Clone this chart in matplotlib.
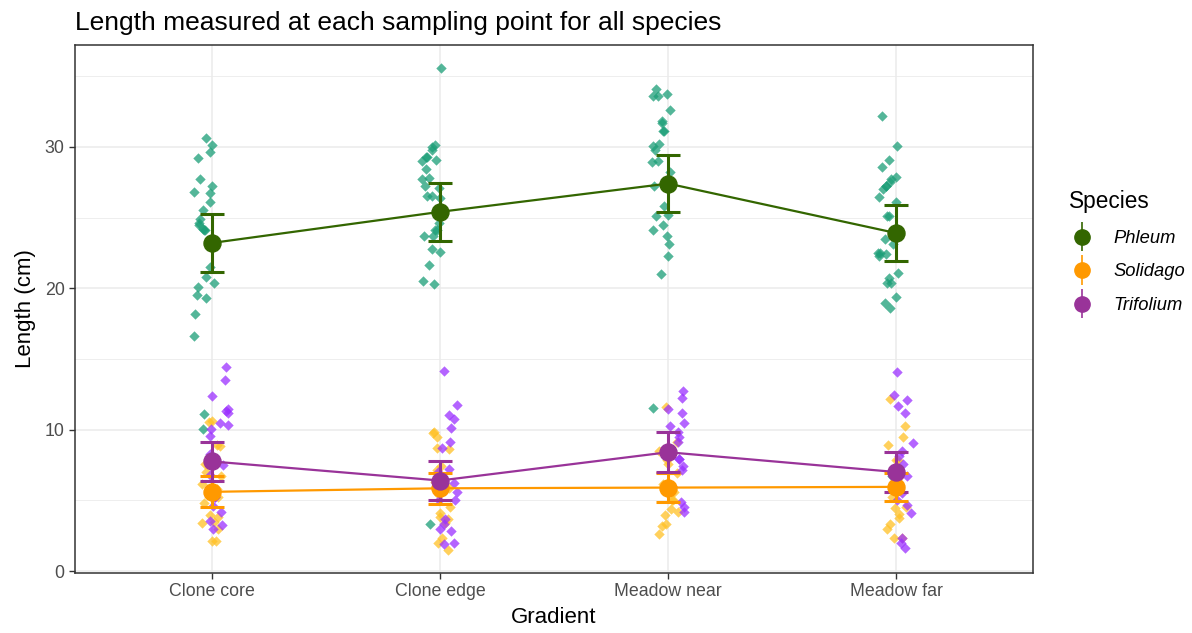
import numpy as np
import matplotlib.pyplot as plt
from matplotlib.ticker import MultipleLocator
from matplotlib.legend_handler import HandlerErrorbar
from matplotlib.container import ErrorbarContainer

plt.rcParams['font.family'] = ['Liberation Sans', 'DejaVu Sans']

gradient = ['Clone core', 'Clone edge', 'Meadow near', 'Meadow far']
species = ['Phleum', 'Solidago', 'Trifolium']

# raw lengths (cm) per sampling point
phleum_core = [30.6, 30.1, 29.6, 29.2, 27.7, 27.2, 26.8, 26.7, 26.1, 25.5, 24.9, 24.6, 24.5, 24.2,
               24.1, 24.1, 23.4, 21.5, 20.8, 20.4, 20.1, 19.5, 19.3, 18.2, 16.6, 11.1, 10.05]
phleum_edge = [35.6, 30.1, 30.0, 29.8, 29.3, 29.0, 29.3, 29.1, 28.45, 27.8, 27.7, 27.1, 27.2, 26.5,
               26.4, 26.5, 24.6, 24.1, 24.1, 23.7, 23.7, 22.8, 22.55, 21.65, 20.3, 20.5, 3.3]
phleum_near = [34.1, 33.6, 33.7, 33.6, 32.6, 31.7, 31.8, 31.1, 31.1, 30.05, 30.2, 29.8, 29.0, 28.9,
               28.2, 27.25, 25.8, 25.1, 25.15, 24.5, 24.1, 23.7, 23.1, 22.3, 21.0, 11.5]
phleum_far = [32.15, 30.05, 29.1, 28.6, 27.9, 27.7, 27.5, 27.25, 27.2, 27.0, 26.45, 26.1, 25.1, 25.1,
              23.5, 23.1, 22.5, 22.4, 22.25, 22.5, 21.1, 20.4, 20.4, 20.75, 19.4, 18.95, 18.6, 6.75]

solidago_core = [10.55, 10.6, 8.9, 8.85, 7.6, 6.7, 6.15, 5.8, 5.2, 4.8, 3.95, 3.85, 3.4, 3.45,
                 3.0, 2.1, 2.1, 7.0]
solidago_edge = [9.85, 9.45, 9.75, 8.7, 8.6, 7.4, 7.15, 6.3, 5.9, 5.4, 4.55, 4.1, 3.85, 3.65,
                 3.4, 2.3, 1.95, 1.5]
solidago_near = [11.6, 9.1, 8.5, 7.85, 7.6, 6.95, 6.15, 5.6, 5.0, 5.05, 4.4, 4.2, 3.95, 3.35,
                 3.2, 2.65]
solidago_far = [12.2, 10.25, 9.45, 8.9, 7.85, 7.85, 6.55, 5.8, 5.2, 4.55, 4.45, 4.05, 3.75, 3.35,
                3.0, 2.35, 2.3]

trifolium_core = [14.46, 13.5, 12.4, 11.45, 11.3, 11.2, 10.5, 10.3, 10.05, 9.55, 8.3, 5.25, 5.25,
                  4.6, 4.2, 3.55, 3.25, 3.0, 7.5, 6.8]
trifolium_edge = [14.15, 11.75, 11.05, 10.75, 10.1, 9.1, 8.7, 7.25, 7.0, 6.2, 5.6, 5.05, 5.0, 3.65,
                  3.3, 3.0, 2.8, 2.0, 1.9]
trifolium_near = [12.75, 12.25, 11.45, 11.2, 10.5, 10.25, 9.85, 9.5, 9.15, 8.6, 7.95, 7.95, 7.4,
                  7.15, 6.0, 4.85, 4.55, 4.2]
trifolium_far = [14.05, 12.45, 12.1, 11.7, 11.15, 9.05, 8.5, 8.1, 7.6, 6.7, 6.2, 5.5, 5.05, 4.65,
                 4.1, 2.35, 1.95, 1.6]

# summary: mean and error bar half width
phleum_mean = [23.2, 25.4, 27.4, 23.9]
phleum_err = [2.05, 2.05, 2.0, 1.95]
solidago_mean = [5.6, 5.85, 5.9, 5.95]
solidago_err = [1.1, 1.1, 1.0, 1.0]
trifolium_mean = [7.75, 6.4, 8.4, 7.0]
trifolium_err = [1.4, 1.4, 1.4, 1.4]

raw = [[phleum_core, phleum_edge, phleum_near, phleum_far],
       [solidago_core, solidago_edge, solidago_near, solidago_far],
       [trifolium_core, trifolium_edge, trifolium_near, trifolium_far]]
means = [phleum_mean, solidago_mean, trifolium_mean]
errs = [phleum_err, solidago_err, trifolium_err]

point_cols = ['#1B9E77', '#FFC125', '#9B30FF']
mean_cols = ['#336600', '#FF9900', '#993399']
dodge = [-0.035, 0.0, 0.035]

fig = plt.figure(figsize=(11.92, 6.33), dpi=100)
ax = fig.add_axes([75/1192, 1-573/633, (1033-75)/1192, (573-45)/633])

x = np.arange(1, 5)

# horizontal jitter only (positions, not data)
rng = np.random.default_rng(7)
for i in range(3):
    for j in range(4):
        vals = raw[i][j]
        xs = x[j] + dodge[i] + rng.uniform(-0.045, 0.045, len(vals))
        ax.scatter(xs, vals, marker='D', s=28, color=point_cols[i], alpha=0.75,
                   linewidths=0, zorder=2)

handles = []
for i in range(3):
    ax.plot(x, means[i], color=mean_cols[i], lw=1.6, zorder=3)
    ax.errorbar(x, means[i], yerr=errs[i], fmt='none', ecolor=mean_cols[i],
                elinewidth=2.2, capsize=8.5, capthick=2.2, zorder=4)
    ax.scatter(x, means[i], s=150, color=mean_cols[i], zorder=5)
    h = ax.errorbar([], [], yerr=[], fmt='o', color=mean_cols[i], ms=11, elinewidth=1.2)
    handles.append(h)

ax.set_xlim(0.4, 4.6)
ax.set_ylim(-0.14, 37.2)
ax.set_xticks(x)
ax.set_xticklabels(gradient)
ax.yaxis.set_major_locator(MultipleLocator(10))
ax.yaxis.set_minor_locator(MultipleLocator(5))
ax.grid(True, which='major', color='#EBEBEB', lw=1.1, zorder=0)
ax.grid(True, which='minor', axis='y', color='#EBEBEB', lw=0.6, zorder=0)
ax.set_axisbelow(True)
ax.tick_params(axis='both', which='major', colors='#333333', labelcolor='#4D4D4D',
               labelsize=12.8, length=4, width=1)
ax.tick_params(axis='y', which='minor', length=0)
for s in ax.spines.values():
    s.set_color('#333333')
    s.set_linewidth(1.1)

ax.set_xlabel('Gradient', fontsize=16, labelpad=5)
ax.set_ylabel('Length (cm)', fontsize=16, labelpad=6)
ax.set_title('Length measured at each sampling point for all species', fontsize=19,
             loc='left', pad=11)

leg = fig.legend(handles, species, title='Species', loc='upper left',
                 bbox_to_anchor=(1052/1192, 1-174/633), frameon=False, fontsize=13.2,
                 title_fontsize=16.3, labelspacing=0.9, handletextpad=0.95, handlelength=1.5,
                 handler_map={ErrorbarContainer: HandlerErrorbar(yerr_size=0.8)})
leg._legend_box.align = 'left'
for t in leg.get_texts():
    t.set_fontstyle('italic')

fig.savefig('out.png', dpi=100)
